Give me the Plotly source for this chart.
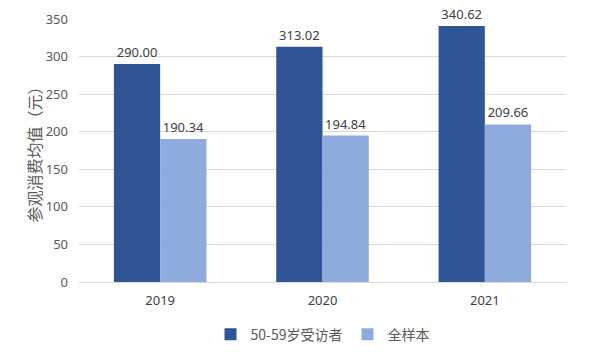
import plotly.graph_objects as go

years = ["2019", "2020", "2021"]
group_5059 = [290.00, 313.02, 340.62]
group_all = [190.34, 194.84, 209.66]
series_names = ["50-59岁受访者", "全样本"]
y_ticks = [0, 50, 100, 150, 200, 250, 300, 350]

font_num = "Noto Sans, Liberation Sans, sans-serif"
font_cjk = "Noto Sans CJK SC, Noto Sans, sans-serif"

fig = go.Figure()
fig.add_trace(go.Bar(
    x=years, y=group_5059, name=series_names[0],
    marker=dict(color="#2F5597", line=dict(width=0)),
    text=[f"{v:.2f}" for v in group_5059], textposition="outside",
    textfont=dict(family=font_num, size=13, color="#404040"),
    cliponaxis=False,
))
fig.add_trace(go.Bar(
    x=years, y=group_all, name=series_names[1],
    marker=dict(color="#8FAADC", line=dict(width=0)),
    text=[f"{v:.2f}" for v in group_all], textposition="outside",
    textfont=dict(family=font_num, size=13, color="#404040"),
    cliponaxis=False,
))

fig.update_layout(
    width=600, height=360,
    margin=dict(l=79, r=34, t=19, b=78, autoexpand=False),
    paper_bgcolor="white", plot_bgcolor="white",
    barmode="group", bargap=0.43, bargroupgap=0,
    showlegend=True,
    legend=dict(orientation="h", x=0.5, xanchor="center", y=-0.2, yanchor="middle",
                font=dict(family=font_cjk, size=14, color="#595959"),
                itemwidth=30, tracegroupgap=0),
    xaxis=dict(showgrid=False, showline=True, linecolor="#D9D9D9", linewidth=1,
               ticks="", automargin=False,
               tickfont=dict(family=font_num, size=13, color="#404040"),
               ticklabelstandoff=6),
    yaxis=dict(range=[0, 350], tickvals=y_ticks, showgrid=True, gridcolor="#D9D9D9",
               gridwidth=1, zeroline=False, showline=False, automargin=False,
               tickfont=dict(family=font_num, size=13, color="#595959"),
               ticklabelstandoff=10,
               title=dict(text="参观消费均值（元）", standoff=0,
                          font=dict(family=font_cjk, size=16, color="#595959"))),
)

fig.write_html("out.html")
